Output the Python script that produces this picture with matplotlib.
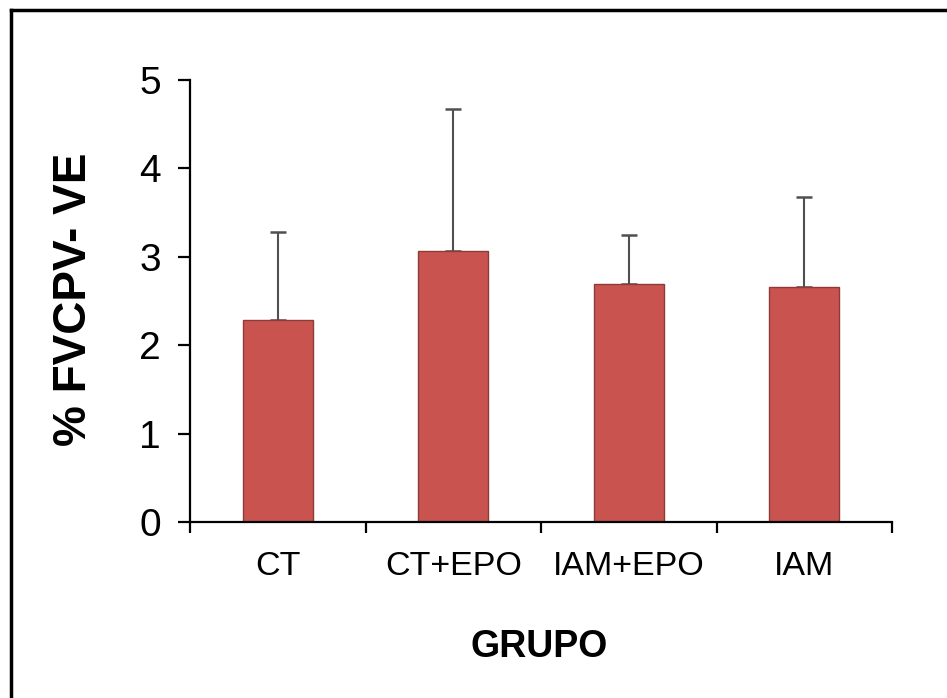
import matplotlib
matplotlib.use("Agg")
import matplotlib.pyplot as plt
from matplotlib.lines import Line2D
import numpy as np

categories = ["CT", "CT+EPO", "IAM+EPO", "IAM"]
means = [2.29, 3.07, 2.69, 2.66]
errors = [0.99, 1.60, 0.56, 1.02]
yticks = [0, 1, 2, 3, 4, 5]

plt.rcParams['font.family'] = ['Liberation Sans', 'DejaVu Sans']

W, H = 947, 698
fig = plt.figure(figsize=(W / 100, H / 100), dpi=100)
fig.patch.set_facecolor('white')

ax = fig.add_axes([190 / W, 1 - 522 / H, (892 - 190) / W, (522 - 80) / H])
x = np.arange(len(categories))
bars = ax.bar(x, means, width=0.4, color='#C9534F', edgecolor='#8E3A37', linewidth=1.0, zorder=2)
ax.errorbar(x, means, yerr=[np.zeros(len(errors)), errors], fmt='none',
            ecolor='#505050', elinewidth=1.5, capsize=6, capthick=1.8, zorder=1)

ax.set_xlim(-0.5, len(categories) - 0.5)
ax.set_ylim(0, 5)
ax.set_yticks(yticks)
ax.set_yticklabels([str(t) for t in yticks], fontsize=28)
ax.set_xticks(x)
ax.set_xticklabels(categories, fontsize=24.5)
ax.set_xticks(np.arange(-0.5, len(categories), 1.0), minor=True)
ax.tick_params(axis='x', which='major', length=0, pad=21)
ax.tick_params(axis='x', which='minor', length=8, width=1.6, direction='out')
ax.tick_params(axis='y', which='major', length=9, width=1.6, direction='out', pad=12)

for s in ['top', 'right']:
    ax.spines[s].set_visible(False)
for s in ['left', 'bottom']:
    ax.spines[s].set_linewidth(1.6)

fig.text(74 / W, 1 - 299 / H, "% FVCPV- VE", rotation=90, fontsize=33,
         fontweight='bold', ha='center', va='center')
fig.text(539 / W, 1 - 647 / H, "GRUPO", fontsize=27, fontweight='bold',
         ha='center', va='center')

# outer frame (top and left edges)
fig.add_artist(Line2D([11 / W, 1.0], [1 - 10 / H, 1 - 10 / H], color='black', lw=2.5,
                      transform=fig.transFigure))
fig.add_artist(Line2D([11 / W, 11 / W], [1 - 10 / H, 0], color='black', lw=2.5,
                      transform=fig.transFigure))

fig.savefig("out.png", dpi=100)
